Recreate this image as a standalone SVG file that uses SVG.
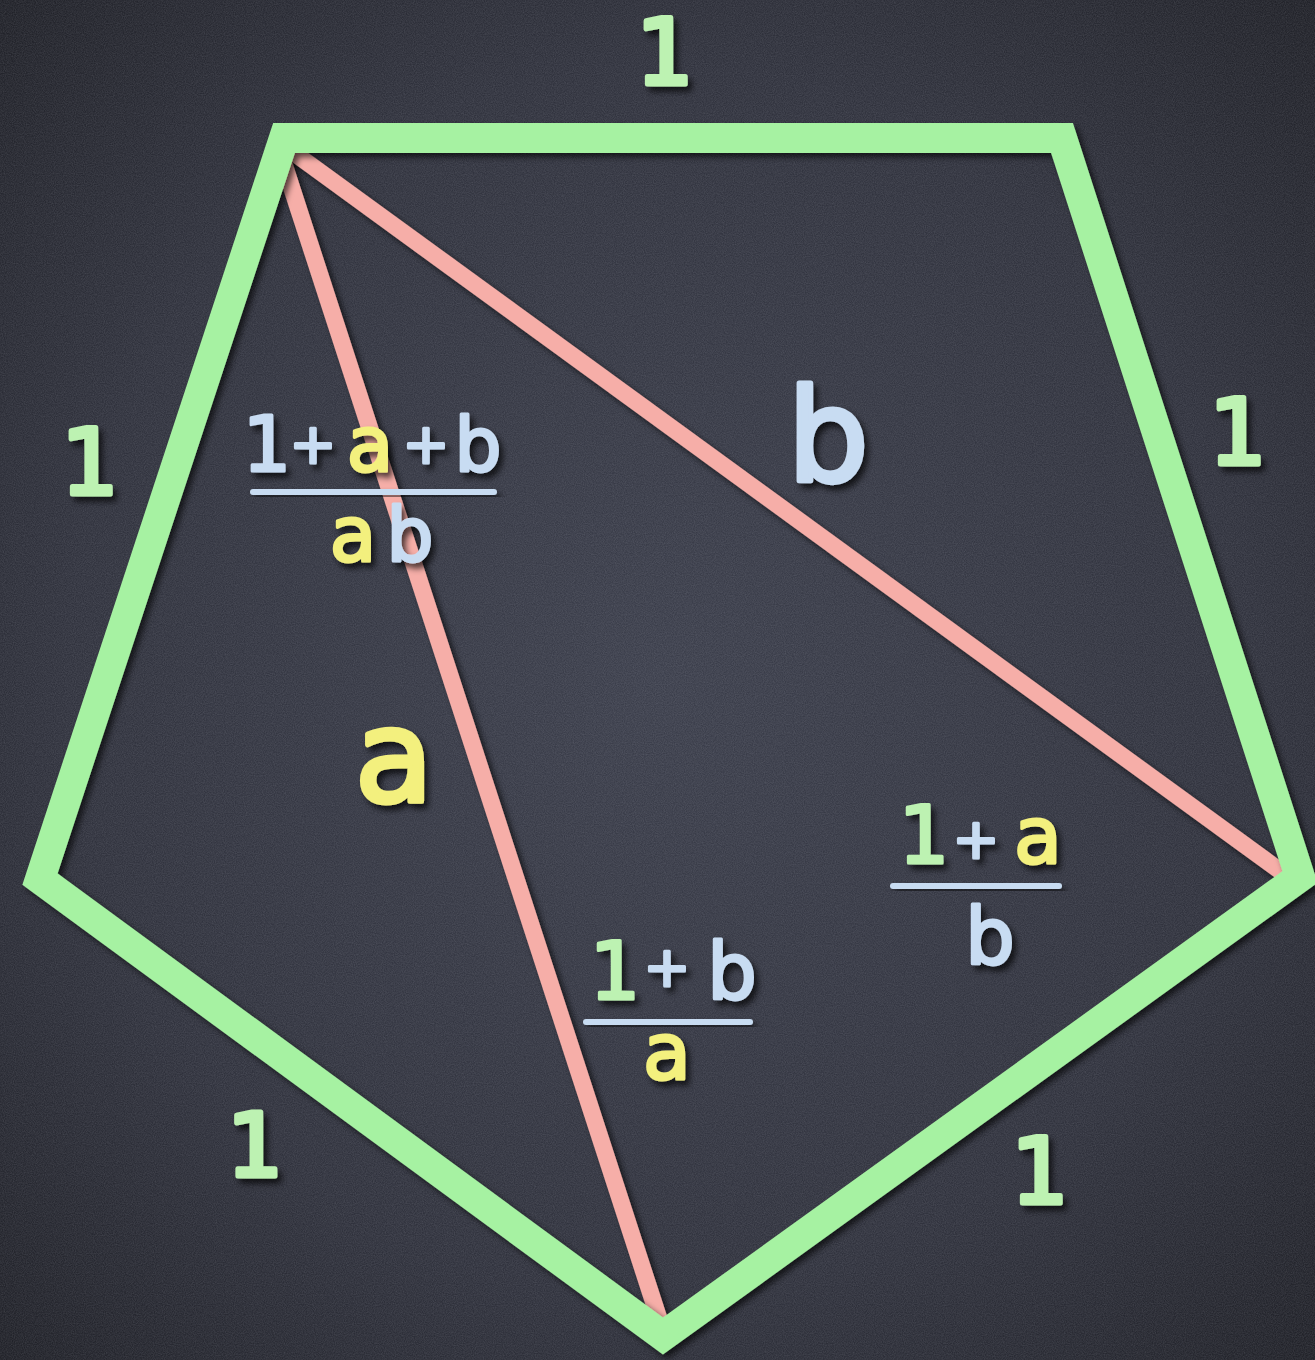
<svg xmlns="http://www.w3.org/2000/svg" width="1315" height="1360" viewBox="0 0 1315 1360">
<defs>
<radialGradient id="bg" cx="50%" cy="50%" r="75%">
<stop offset="0" stop-color="#3c3f4c"/>
<stop offset="0.6" stop-color="#30323d"/>
<stop offset="1" stop-color="#1d1e24"/>
</radialGradient>
<filter id="noise" x="0" y="0" width="100%" height="100%">
<feTurbulence type="fractalNoise" baseFrequency="0.9" numOctaves="2" seed="3" result="t"/>
<feColorMatrix in="t" type="matrix" values="0 0 0 0 0.8  0 0 0 0 0.82  0 0 0 0 0.9  0 0 0 0.18 -0.04"/>
</filter>
<filter id="sh" x="-10%" y="-10%" width="120%" height="120%">
<feDropShadow dx="4" dy="4" stdDeviation="3" flood-color="#000" flood-opacity="0.65"/>
</filter>
<filter id="tsh" x="-20%" y="-20%" width="140%" height="140%">
<feDropShadow dx="4" dy="5" stdDeviation="3" flood-color="#000" flood-opacity="0.7"/>
</filter>
</defs>
<style>
.t{font-family:"DejaVu Sans","Liberation Sans",sans-serif;text-anchor:middle;filter:url(#tsh);stroke-width:3;stroke-linejoin:round}
.big{stroke-width:5}
.g{fill:#bdf2b2;stroke:#bdf2b2}
.bl{fill:#c8dcf2;stroke:#c8dcf2}
.y{fill:#f3f07e;stroke:#f3f07e}
.bar{fill:#c8dcf2;filter:url(#tsh)}
.pink{stroke:#f6aea8;stroke-width:17;fill:none}
.green{stroke:#a6f2a2;stroke-width:30;fill:none;stroke-linejoin:miter}
</style>
<rect width="1315" height="1360" fill="url(#bg)"/>
<rect width="1315" height="1360" filter="url(#noise)"/>

<g id="diagonals" filter="url(#sh)">
<line class="pink" x1="280" y1="152" x2="660" y2="1322"/>
<line class="pink" x1="290" y1="150" x2="1283" y2="873"/>
</g>

<g id="pentagon" filter="url(#sh)">
<polygon class="green" points="284,138 1062,138 1300,877 663,1336 40,879"/>
</g>

<g id="side-labels">
<text class="t g big" x="665" y="84" font-size="90">1</text>
<text class="t g big" x="90" y="494" font-size="90">1</text>
<text class="t g big" x="1238" y="464" font-size="90">1</text>
<text class="t g big" x="255" y="1176" font-size="88">1</text>
<text class="t g big" x="1040" y="1203" font-size="90">1</text>
</g>

<g id="big-labels">
<text class="t bl big" x="828" y="481" font-size="128">b</text>
<text class="t y big" x="394" y="801" font-size="128">a</text>
</g>

<g id="frac1">
<text class="t bl" x="267" y="471" font-size="76">1</text>
<text class="t bl" x="313" y="463" font-size="56">+</text>
<text class="t y" x="370" y="471" font-size="76">a</text>
<text class="t bl" x="426" y="463" font-size="56">+</text>
<text class="t bl" x="478" y="471" font-size="74">b</text>
<rect class="bar" x="250" y="489" width="247" height="6" rx="3"/>
<text class="t y" x="353" y="561" font-size="76">a</text>
<text class="t bl" x="410" y="561" font-size="74">b</text>
</g>

<g id="frac2">
<text class="t g" x="615" y="999" font-size="80">1</text>
<text class="t bl" x="667" y="986" font-size="56">+</text>
<text class="t bl" x="732" y="999" font-size="78">b</text>
<rect class="bar" x="583" y="1019" width="170" height="6" rx="3"/>
<text class="t y" x="667" y="1079" font-size="78">a</text>
</g>

<g id="frac3">
<text class="t g" x="924" y="863" font-size="80">1</text>
<text class="t bl" x="976" y="858" font-size="56">+</text>
<text class="t y" x="1038" y="863" font-size="78">a</text>
<rect class="bar" x="890" y="883" width="172" height="6" rx="3"/>
<text class="t bl" x="990" y="964" font-size="78">b</text>
</g>
</svg>
